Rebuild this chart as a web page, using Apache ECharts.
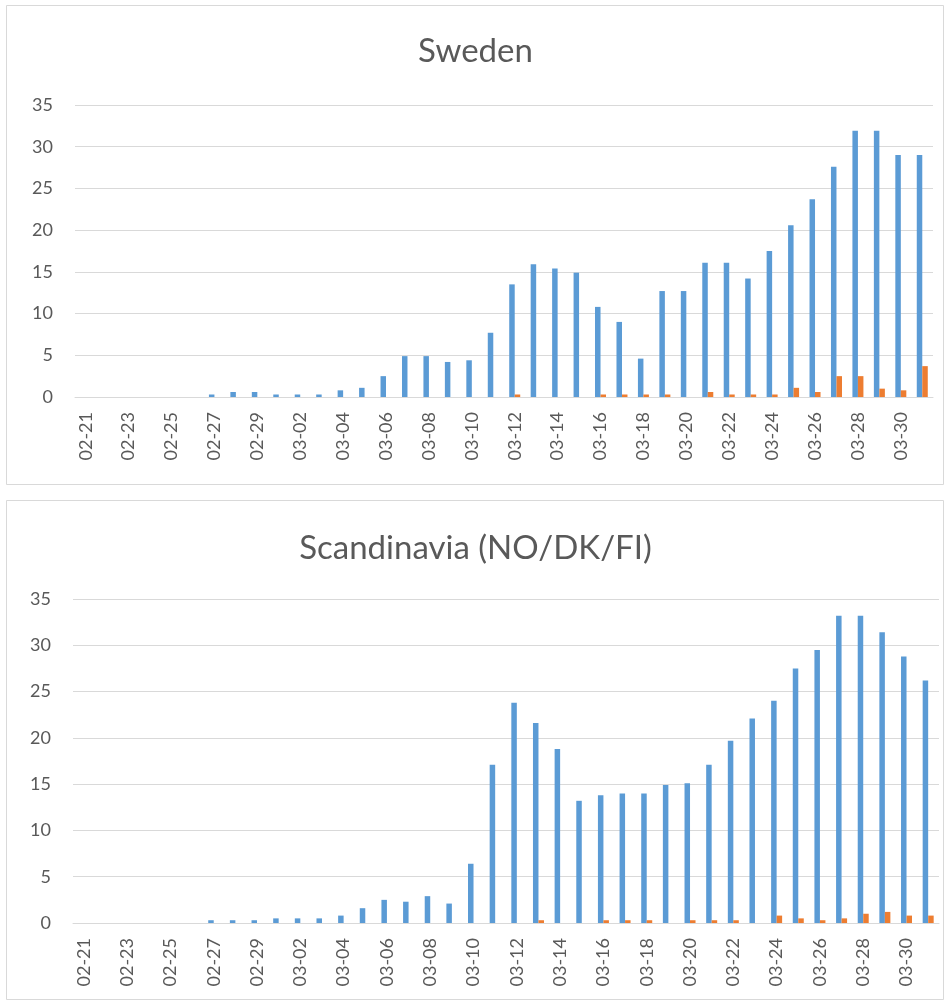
<!DOCTYPE html>
<html>
<head>
<meta charset="utf-8">
<script src="https://cdn.jsdelivr.net/npm/echarts@6/dist/echarts.min.js"></script>
<style>
  html, body { margin: 0; padding: 0; background: #fff; }
  #chart { width: 951px; height: 1005px; }
</style>
</head>
<body>
<div id="chart"></div>
<script>
// dates on the x axis
var days = ['02-21', '02-22', '02-23', '02-24', '02-25', '02-26', '02-27', '02-28', '02-29',
  '03-01', '03-02', '03-03', '03-04', '03-05', '03-06', '03-07', '03-08', '03-09', '03-10',
  '03-11', '03-12', '03-13', '03-14', '03-15', '03-16', '03-17', '03-18', '03-19', '03-20',
  '03-21', '03-22', '03-23', '03-24', '03-25', '03-26', '03-27', '03-28', '03-29', '03-30', '03-31']

// Sweden
var sweBlue = [0, 0, 0, 0, 0, 0, 0.3, 0.6, 0.6, 0.3, 0.3, 0.3, 0.8, 1.1, 2.5, 4.9, 4.9, 4.2, 4.4,
  7.7, 13.5, 15.9, 15.4, 14.9, 10.8, 9.0, 4.6, 12.7, 12.7, 16.1, 16.1, 14.2, 17.5, 20.6, 23.7,
  27.6, 31.9, 31.9, 29.0, 29.0]
var sweOrange = [0, 0, 0, 0, 0, 0, 0, 0, 0, 0, 0, 0, 0, 0, 0, 0, 0, 0, 0,
  0, 0.3, 0, 0, 0, 0.3, 0.3, 0.3, 0.3, 0, 0.6, 0.3, 0.3, 0.3, 1.1, 0.6,
  2.5, 2.5, 1.0, 0.8, 3.7]

// Scandinavia (NO/DK/FI)
var scaBlue = [0, 0, 0, 0, 0, 0, 0.3, 0.3, 0.3, 0.5, 0.5, 0.5, 0.8, 1.6, 2.5, 2.3, 2.9, 2.1, 6.4,
  17.1, 23.8, 21.6, 18.8, 13.2, 13.8, 14.0, 14.0, 14.9, 15.1, 17.1, 19.7, 22.1, 24.0, 27.5, 29.5,
  33.2, 33.2, 31.4, 28.8, 26.2]
var scaOrange = [0, 0, 0, 0, 0, 0, 0, 0, 0, 0, 0, 0, 0, 0, 0, 0, 0, 0, 0,
  0, 0, 0.3, 0, 0, 0.3, 0.3, 0.3, 0, 0.3, 0.3, 0.3, 0, 0.8, 0.5, 0.3,
  0.5, 1.0, 1.2, 0.8, 0.8]

var yTicks = { min: 0, max: 35, interval: 5 }

var blue = '#5B9BD5'
var orange = '#ED7D31'
var textColor = '#595959'
var lineColor = '#D9D9D9'
var font = 'Lato, "Open Sans", sans-serif'

var myChart = echarts.init(document.getElementById('chart'))

function xAxis(idx) {
  return {
    type: 'category',
    gridIndex: idx,
    data: days,
    axisTick: { show: false },
    axisLine: { lineStyle: { color: lineColor, width: 1 } },
    axisLabel: {
      interval: 1,
      rotate: 90,
      margin: 15,
      color: textColor,
      fontSize: 18,
      fontFamily: font
    }
  }
}

function yAxis(idx) {
  return {
    type: 'value',
    gridIndex: idx,
    min: yTicks.min,
    max: yTicks.max,
    interval: yTicks.interval,
    axisLine: { show: false },
    axisTick: { show: false },
    splitLine: { lineStyle: { color: lineColor, width: 1 } },
    axisLabel: { margin: 22, color: textColor, fontSize: 18, fontFamily: font }
  }
}

function bar(name, data, color, idx) {
  return {
    name: name,
    type: 'bar',
    xAxisIndex: idx,
    yAxisIndex: idx,
    data: data,
    barWidth: 5.5,
    barGap: '0%',
    itemStyle: { color: color },
    silent: true
  }
}

var option = {
  animation: false,
  backgroundColor: '#fff',
  title: [
    {
      text: 'Sweden',
      left: 'center',
      top: 30,
      textStyle: { color: textColor, fontSize: 33, fontWeight: 'normal', fontFamily: font }
    },
    {
      text: 'Scandinavia (NO/DK/FI)',
      left: 'center',
      top: 527,
      textStyle: { color: textColor, fontSize: 33, fontWeight: 'normal', fontFamily: font }
    }
  ],
  // panel frames
  graphic: [
    {
      type: 'rect',
      shape: { x: 6.5, y: 5.5, width: 937, height: 479 },
      style: { fill: 'none', stroke: lineColor, lineWidth: 1 },
      silent: true
    },
    {
      type: 'rect',
      shape: { x: 6.5, y: 500.5, width: 937, height: 499 },
      style: { fill: 'none', stroke: lineColor, lineWidth: 1 },
      silent: true
    }
  ],
  grid: [
    { left: 75, right: 18, top: 105, height: 292 },
    { left: 73, right: 12, top: 599, height: 324 }
  ],
  xAxis: [xAxis(0), xAxis(1)],
  yAxis: [yAxis(0), yAxis(1)],
  series: [
    bar('Series1', sweBlue, blue, 0),
    bar('Series2', sweOrange, orange, 0),
    bar('Series1', scaBlue, blue, 1),
    bar('Series2', scaOrange, orange, 1)
  ]
}

myChart.setOption(option)
</script>
</body>
</html>
